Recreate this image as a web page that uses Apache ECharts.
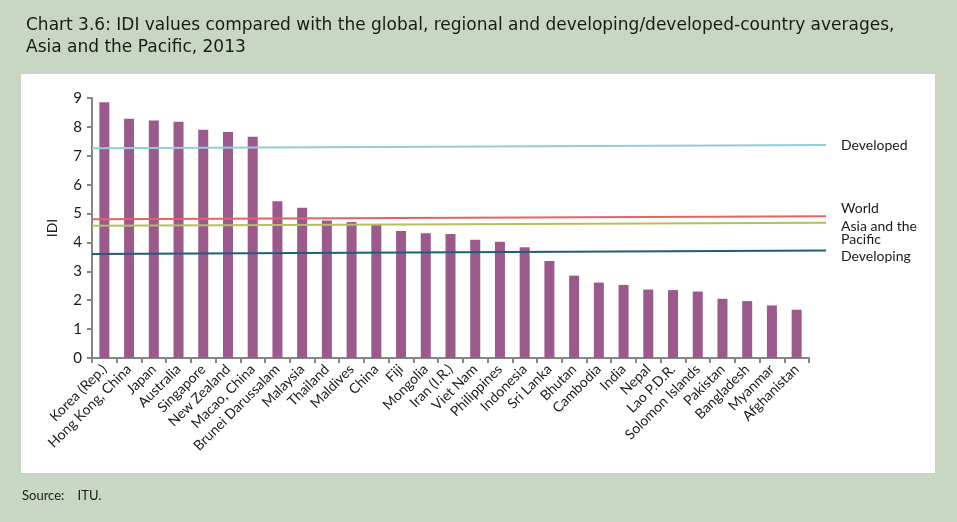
<!DOCTYPE html>
<html>
<head>
<meta charset="utf-8">
<script src="https://cdn.jsdelivr.net/npm/echarts@6/dist/echarts.min.js"></script>
<style>
html,body{margin:0;padding:0;background:#c8d6c3;}
#main{width:957px;height:522px;}
</style>
</head>
<body>
<div id="main"></div>
<script>
const categories = ["Korea (Rep.)","Hong Kong, China","Japan","Australia","Singapore","New Zealand","Macao, China","Brunei Darussalam","Malaysia","Thailand","Maldives","China","Fiji","Mongolia","Iran (I.R.)","Viet Nam","Philippines","Indonesia","Sri Lanka","Bhutan","Cambodia","India","Nepal","Lao P.D.R.","Solomon Islands","Pakistan","Bangladesh","Myanmar","Afghanistan"];
const idiValues = [8.85,8.28,8.22,8.18,7.90,7.82,7.66,5.43,5.20,4.76,4.71,4.64,4.40,4.32,4.29,4.09,4.02,3.83,3.36,2.85,2.61,2.53,2.37,2.35,2.30,2.05,1.97,1.82,1.67];
const yTicks = [0,1,2,3,4,5,6,7,8,9];
// reference lines: [value at left end, value at right end] as drawn
const developedLine = [7.26, 7.37];
const worldLine = [4.80, 4.91];
const asiaLine = [4.58, 4.68];
const developingLine = [3.60, 3.72];

const chart = echarts.init(document.getElementById('main'));
const font = 'Lato';
function refLine(name, vals, color, offY) {
  return {
    type: 'line', name: name, xAxisIndex: 1, yAxisIndex: 1,
    data: [[0, vals[0]], [1, vals[1]]],
    symbol: 'none', silent: true,
    lineStyle: {color: color, width: 2},
    endLabel: {show: true, formatter: name, color: '#1a1a1a', fontFamily: font, fontSize: 14,
      lineHeight: 13, offset: [7, offY]},
    z: 3
  };
}
chart.setOption({
  backgroundColor: '#c8d6c3',
  animation: false,
  title: {
    text: 'Chart 3.6: IDI values compared with the global, regional and developing/developed-country averages,\nAsia and the Pacific, 2013',
    left: 21, top: 10,
    textStyle: {fontFamily: 'DejaVu Sans', fontSize: 17, fontWeight: 'normal', color: '#1a1a1a', lineHeight: 22}
  },
  graphic: [
    {type: 'rect', shape: {x: 21, y: 74, width: 914, height: 399}, style: {fill: '#ffffff'}, z: -10, silent: true},
    {type: 'text', left: 22, top: 489, style: {text: 'Source:    ITU.', font: '13px Lato', fill: '#1a1a1a'}}
  ],
  grid: [
    {left: 92, right: 148, top: 98, bottom: 164},
    {left: 92, right: 131, top: 98, bottom: 164}
  ],
  xAxis: [
    {type: 'category', data: categories, gridIndex: 0,
     axisLine: {lineStyle: {color: '#868686', width: 2}},
     axisTick: {show: true, interval: 0, length: 5, lineStyle: {color: '#868686', width: 2}},
     axisLabel: {interval: 0, rotate: 45, fontFamily: font, fontSize: 14, color: '#1a1a1a', margin: 9}},
    {type: 'value', gridIndex: 1, min: 0, max: 1, show: false}
  ],
  yAxis: [
    {type: 'value', gridIndex: 0, min: 0, max: 9, interval: 1,
     name: 'IDI', nameLocation: 'middle', nameGap: 33, nameRotate: 90,
     nameTextStyle: {fontFamily: font, fontSize: 14, color: '#1a1a1a'},
     axisLine: {show: true, lineStyle: {color: '#868686', width: 2}},
     axisTick: {show: true, length: 5, lineStyle: {color: '#868686', width: 2}},
     splitLine: {show: false},
     axisLabel: {fontFamily: font, fontSize: 15, color: '#1a1a1a', margin: 10,
       formatter: v => yTicks.includes(v) ? String(v) : ''}},
    {type: 'value', gridIndex: 1, min: 0, max: 9, show: false}
  ],
  series: [
    {type: 'bar', name: 'IDI', data: idiValues, xAxisIndex: 0, yAxisIndex: 0,
     barWidth: 10, itemStyle: {color: '#9a5a8c'}, z: 2},
    refLine('Developed', developedLine, '#93cddd', 0),
    refLine('World', worldLine, '#df6663', -8),
    refLine('Asia and the\nPacific', asiaLine, '#b5bf5f', 10),
    refLine('Developing', developingLine, '#215e78', 6)
  ]
});
</script>
</body>
</html>
